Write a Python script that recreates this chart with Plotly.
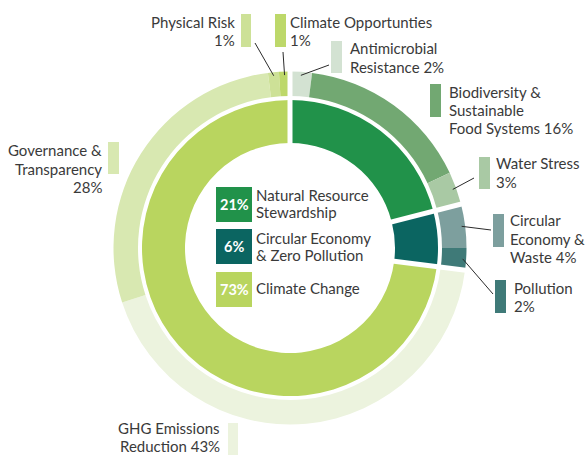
import math
import plotly.graph_objects as go

# ---------------- data ----------------
inner_labels = ["Natural Resource<br>Stewardship", "Circular Economy<br>& Zero Pollution", "Climate Change"]
inner_values = [21, 6, 73]
inner_colors = ["#21924a", "#0b6561", "#b9d55f"]

outer_labels = ["Antimicrobial Resistance", "Biodiversity & Sustainable Food Systems", "Water Stress",
                "Circular Economy & Waste", "Pollution", "GHG Emissions Reduction",
                "Governance & Transparency", "Physical Risk", "Climate Opportunties"]
outer_values = [2, 16, 3, 4, 2, 43, 28, 1, 1]
outer_colors = ["#d3e2d2", "#72a872", "#a9c9a4", "#7d9f9e", "#3f7a78", "#ecf3de",
                "#d8e8b1", "#cde197", "#bdd86a"]

# ---------------- layout helpers ----------------
W, H = 587, 455
CX, CY = 290, 248
R_OUT, R_OUT_IN = 176.5, 152
R_IN, R_IN_HOLE = 148, 105
TEXT = "#3a3a3a"
FONT = "Lato"
FS = 15


def P(x, y):
    return x / W, 1 - y / H


def dom(r):
    return dict(x=[(CX - r) / W, (CX + r) / W], y=[1 - (CY + r) / H, 1 - (CY - r) / H])


def polar(frac, r):
    a = 2 * math.pi * frac
    return CX + r * math.sin(a), CY - r * math.cos(a)


fig = go.Figure()
fig.add_trace(go.Pie(values=outer_values, labels=outer_labels, sort=False, direction="clockwise",
                     rotation=0, hole=R_OUT_IN / R_OUT, domain=dom(R_OUT), textinfo="none",
                     marker=dict(colors=outer_colors, line=dict(width=0)), showlegend=False))
fig.add_trace(go.Pie(values=inner_values, labels=inner_labels, sort=False, direction="clockwise",
                     rotation=0, hole=R_IN_HOLE / R_IN, domain=dom(R_IN), textinfo="none",
                     marker=dict(colors=inner_colors, line=dict(width=0)), showlegend=False))

shapes = []
annotations = []


def text_block(text, x, yc, side, spacing, size=FS, color=TEXT):
    lines = text.split("<br>")
    n = len(lines)
    for i, ln in enumerate(lines):
        y = yc + (i - (n - 1) / 2) * spacing
        px, py = P(x, y)
        annotations.append(dict(xref="paper", yref="paper", x=px, y=py, text=ln, showarrow=False,
                                xanchor=side, yanchor="middle", align=side, borderpad=0,
                                font=dict(family=FONT, size=size, color=color)))


# white gaps at group boundaries
tot = sum(inner_values)
cum = 0
for v in inner_values:
    x0, y0 = polar(cum / tot, 95)
    x1, y1 = polar(cum / tot, 185)
    a0, b0 = P(x0, y0)
    a1, b1 = P(x1, y1)
    shapes.append(dict(type="line", xref="paper", yref="paper", x0=a0, y0=b0, x1=a1, y1=b1,
                       line=dict(color="white", width=5)))
    cum += v

# outer labels: wrapped text, swatch box (px), text anchor (px), side, leader start (px)
outer_layout = {
    "Antimicrobial Resistance": ("Antimicrobial<br>Resistance {v}%", (331, 41, 342, 73), (349, 57.5), "left", (329, 65)),
    "Biodiversity & Sustainable Food Systems": ("Biodiversity &<br>Sustainable<br>Food Systems {v}%", (430, 84, 441, 117), (448, 110), "left", None),
    "Water Stress": ("Water Stress<br>{v}%", (479, 157, 490, 189), (495, 172.5), "left", (474, 178)),
    "Circular Economy & Waste": ("Circular<br>Economy &<br>Waste {v}%", (493, 214, 504, 247), (509, 238.5), "left", (491, 230)),
    "Pollution": ("Pollution<br>{v}%", (495, 280, 506, 313), (513, 297), "left", (493, 294)),
    "GHG Emissions Reduction": ("GHG Emissions<br>Reduction {v}%", (228, 423, 238, 460), (221, 437), "right", None),
    "Governance & Transparency": ("Governance &<br>Transparency<br>{v}%", (108, 142, 119, 174), (103, 168.5), "right", None),
    "Physical Risk": ("Physical Risk<br>{v}%", (241, 14, 251, 47), (236, 31), "right", (255, 43)),
    "Climate Opportunties": ("Climate Opportunties<br>{v}%", (275, 14, 286, 47), (289, 31), "left", (283, 52)),
}

otot = sum(outer_values)
cum = 0
for lab, v, col in zip(outer_labels, outer_values, outer_colors):
    txt, box, tpos, side, lead = outer_layout[lab]
    mid = (cum + v / 2) / otot
    cum += v
    bx0, by0 = P(box[0], box[3])
    bx1, by1 = P(box[2], box[1])
    shapes.append(dict(type="rect", xref="paper", yref="paper", x0=bx0, y0=by0, x1=bx1, y1=by1,
                       fillcolor=col, line=dict(width=0)))
    text_block(txt.format(v=v), tpos[0], tpos[1], side, 18.3)
    if lead is not None:
        ex, ey = polar(mid, 173)
        l0x, l0y = P(*lead)
        l1x, l1y = P(ex, ey)
        shapes.append(dict(type="line", xref="paper", yref="paper", x0=l0x, y0=l0y, x1=l1x, y1=l1y,
                           line=dict(color="#2b2b2b", width=1)))

# center legend
legend_boxes = [(216, 187, 252, 222), (216, 229, 252, 264), (216, 272, 252, 307)]
legend_text_y = [203.7, 246.7, 288.3]
for lab, v, col, box, ty in zip(inner_labels, inner_values, inner_colors, legend_boxes, legend_text_y):
    bx0, by0 = P(box[0], box[3])
    bx1, by1 = P(box[2], box[1])
    shapes.append(dict(type="rect", xref="paper", yref="paper", x0=bx0, y0=by0, x1=bx1, y1=by1,
                       fillcolor=col, line=dict(width=0)))
    text_block("<b>%d%%</b>" % v, (box[0] + box[2]) / 2, (box[1] + box[3]) / 2, "center", 16.7,
               size=14.5, color="white")
    text_block(lab, 255, ty, "left", 16.7)

fig.update_layout(width=W, height=H, margin=dict(l=0, r=0, t=0, b=0),
                  paper_bgcolor="white", plot_bgcolor="white",
                  shapes=shapes, annotations=annotations, showlegend=False)
fig.write_html("out.html")
